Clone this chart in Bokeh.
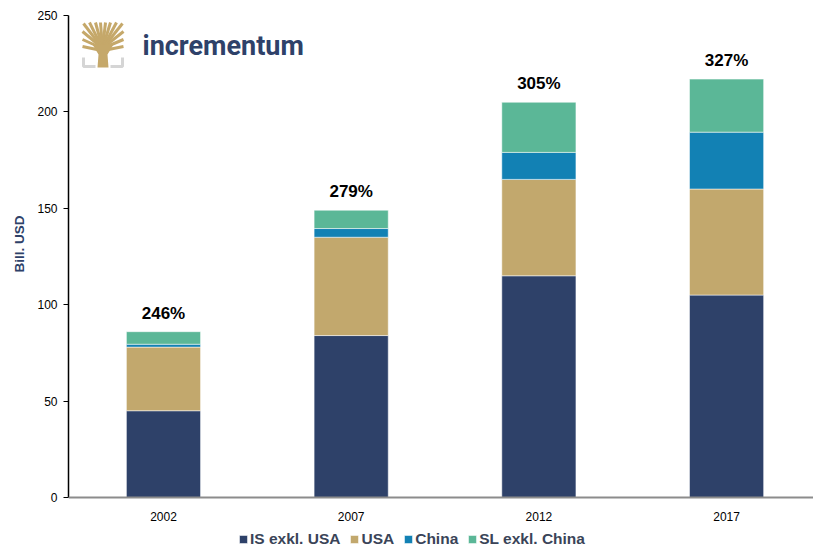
from bokeh.plotting import figure
from bokeh.models import (ColumnDataSource, Range1d, Legend, LegendItem, Label,
                          FixedTicker, PolyAnnotation, Span, Title)
from bokeh.core.properties import value
from bokeh.embed import file_html
from bokeh.resources import INLINE

# ---- data ----
years = ["2002", "2007", "2012", "2017"]
is_exkl_usa = [45, 84, 115, 105]
usa = [33, 51, 50, 55]
china = [1.5, 4.5, 14, 29.5]
sl_exkl_china = [6.5, 9.5, 26, 27.5]
pct_labels = ["246%", "279%", "305%", "327%"]
series_names = ["IS exkl. USA", "USA", "China", "SL exkl. China"]
colors = ["#2E4169", "#C2A86D", "#1281B4", "#5BB797"]

xs = list(range(len(years)))
stacks = [is_exkl_usa, usa, china, sl_exkl_china]

W, H = 813, 552
X0 = -0.506
X1 = X0 + 745 / 187.7
ypp = 250 / 482.0
Y0 = -55 * ypp
p = figure(width=W, height=H, output_backend="svg", toolbar_location=None,
           x_range=Range1d(X0, X1), y_range=Range1d(Y0, 250),
           min_border_left=68, min_border_right=0, min_border_top=15,
           min_border_bottom=0)
p.grid.visible = False
p.outline_line_color = None
p.background_fill_color = "white"
p.xaxis.visible = False

renderers = []
bottom = [0] * len(xs)
for vals, col in zip(stacks, colors):
    top = [b + v for b, v in zip(bottom, vals)]
    src = ColumnDataSource(dict(x=xs, bottom=bottom, top=top))
    r = p.vbar(x="x", bottom="bottom", top="top", width=0.395, source=src,
               fill_color=col, line_color="white", line_alpha=0.5, line_width=1)
    renderers.append(r)
    bottom = top

totals = bottom
lab_src = ColumnDataSource(dict(x=xs, y=totals, t=pct_labels))
p.text(x="x", y="y", text="t", source=lab_src, text_align="center",
       text_baseline="bottom", y_offset=-9, text_font=value("Liberation Sans"),
       text_font_size="17px", text_font_style="bold", text_color="black")

# x axis (line + category labels)
p.add_layout(Span(location=0, dimension="width", line_color="#8C8C8C", line_width=2))
cat_src = ColumnDataSource(dict(x=xs, y=[0] * len(xs), t=years))
p.text(x="x", y="y", text="t", source=cat_src, text_align="center",
       text_baseline="top", y_offset=14, text_font=value("Liberation Sans"),
       text_font_size="12px", text_color="black")

ya = p.yaxis[0]
ya.ticker = FixedTicker(ticks=[0, 50, 100, 150, 200, 250])
ya.bounds = (0, 250)
ya.axis_line_color = "black"
ya.axis_line_width = 1.5
ya.major_tick_line_color = "black"
ya.major_tick_in = 0
ya.major_tick_out = 5
ya.minor_tick_line_color = None
ya.major_label_text_font = "Liberation Sans"
ya.major_label_text_font_size = "12px"
ya.major_label_text_color = "black"
ya.major_label_standoff = 6

# y axis title as a side title, positioned on the 0-250 span
p.add_layout(Title(text="Bill. USD", align="left", offset=280, standoff=15,
                   text_font="Liberation Sans", text_font_size="13.5px",
                   text_font_style="bold", text_color="#2E4169"), "left")

legend = Legend(items=[LegendItem(label=n, renderers=[r]) for n, r in zip(series_names, renderers)],
                orientation="horizontal", location=(170, 4),
                label_text_font="Liberation Sans", label_text_font_size="15.5px",
                label_text_font_style="bold", label_text_color="#3A4458",
                glyph_width=10, glyph_height=10, label_standoff=2, spacing=9,
                padding=0, margin=0, border_line_color=None,
                background_fill_alpha=0, label_height=16)
p.add_layout(legend, "center")

# ---- logo (decoration) ----
fx0, fy0 = 68, 497
xpp = 1 / 187.7
def px(x):
    return X0 + (x - fx0) * xpp
def py(y):
    return (fy0 - y) * ypp

gold = "#C5A86A"
trunk = [(97, 67), (108, 67), (107, 54), (113, 44), (92, 44), (98, 54)]
p.add_layout(PolyAnnotation(xs=[px(a) for a, b in trunk], ys=[py(b) for a, b in trunk],
                            fill_color=gold, fill_alpha=1, line_color=None))
branches = [
    [(102, 48), (83, 23)], [(102, 48), (89, 22)], [(102, 48), (95, 22)],
    [(102, 48), (100, 22)], [(102, 48), (105, 22)], [(102, 48), (110, 22)],
    [(102, 48), (116, 22)], [(102, 48), (122, 23)],
    [(100, 46), (82, 31)], [(104, 46), (123, 31)],
    [(100, 47), (82, 39)], [(104, 47), (123, 39)],
    [(101, 50), (82, 46)], [(103, 50), (123, 46)],
]
for seg in branches:
    p.line([px(a) for a, b in seg], [py(b) for a, b in seg], line_color=gold,
           line_width=3, line_cap="butt")
for seg in [[(83, 57), (83, 66), (95, 66)], [(122, 57), (122, 66), (110, 66)]]:
    p.line([px(a) for a, b in seg], [py(b) for a, b in seg], line_color="#D5D5D5",
           line_width=3)

p.add_layout(Label(x=px(142), y=py(45), text="incrementum", text_baseline="middle",
                   text_font="Roboto", text_font_size="27px", text_font_style="bold",
                   text_color="#2E4169"))

open("out.html", "w").write(file_html(p, INLINE))
